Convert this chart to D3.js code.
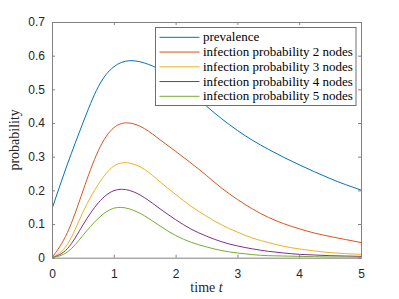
<!DOCTYPE html>
<html>
<head>
<meta charset="utf-8">
<script src="https://cdn.jsdelivr.net/npm/d3@7"></script>
<style>
  html, body { margin: 0; padding: 0; background: #fff; }
  svg { display: block; }
</style>
</head>
<body>
<svg id="chart" width="399" height="299"></svg>
<script>
// ---- data ----
const times = [0, 0.25, 0.5, 0.75, 1.0, 1.25, 1.5, 1.75, 2.0, 2.25, 2.5, 2.75, 3.0, 3.25, 3.5, 3.75, 4.0, 4.25, 4.5, 4.75, 5.0];
const prevalence = [0.145, 0.278, 0.400, 0.508, 0.567, 0.585, 0.578, 0.558, 0.527, 0.490, 0.450, 0.412, 0.378, 0.348, 0.322, 0.298, 0.276, 0.255, 0.235, 0.217, 0.201];
const infection2 = [0, 0.075, 0.198, 0.318, 0.386, 0.400, 0.383, 0.350, 0.316, 0.281, 0.244, 0.206, 0.173, 0.144, 0.120, 0.101, 0.086, 0.073, 0.063, 0.054, 0.045];
const infection3 = [0, 0.040, 0.135, 0.218, 0.272, 0.281, 0.262, 0.225, 0.188, 0.153, 0.123, 0.097, 0.076, 0.058, 0.045, 0.034, 0.026, 0.020, 0.015, 0.012, 0.010];
const infection4 = [0, 0.027, 0.097, 0.163, 0.199, 0.200, 0.178, 0.145, 0.113, 0.085, 0.064, 0.047, 0.035, 0.026, 0.019, 0.014, 0.010, 0.008, 0.006, 0.005, 0.004];
const infection5 = [0, 0.017, 0.066, 0.117, 0.147, 0.145, 0.124, 0.094, 0.066, 0.046, 0.032, 0.021, 0.014, 0.009, 0.006, 0.005, 0.004, 0.003, 0.002, 0.002, 0.001];
const seriesNames = ["prevalence", "infection probability 2 nodes", "infection probability 3 nodes", "infection probability 4 nodes", "infection probability 5 nodes"];
const seriesColors = ["#0072BD", "#D95319", "#EDB120", "#7E2F8E", "#77AC30"];
const xTicks = [0, 1, 2, 3, 4, 5];
const yTicks = [0, 0.1, 0.2, 0.3, 0.4, 0.5, 0.6, 0.7];

const allSeries = [prevalence, infection2, infection3, infection4, infection5];

// ---- layout ----
const svg = d3.select("#chart");
const L = 52, R = 361, T = 22, B = 257.7;
const x = d3.scaleLinear().domain([0, 5]).range([L, R]);
const y = d3.scaleLinear().domain([0, 0.7]).range([B, T]);
const axisColor = "#828282";
const tickFont = "'Liberation Sans', Arial, Helvetica, sans-serif";
const serif = "'Liberation Serif', 'Times New Roman', serif";

// curves (clipped to the plot box)
svg.append("clipPath").attr("id", "clip")
  .append("rect").attr("x", L).attr("y", T).attr("width", R - L).attr("height", B - T);

const line = d3.line()
  .x((d, i) => x(times[i]))
  .y(d => y(d))
  .curve(d3.curveNatural);

svg.append("g").attr("clip-path", "url(#clip)")
  .selectAll("path").data(allSeries).join("path")
  .attr("d", d => line(d))
  .attr("fill", "none")
  .attr("stroke", (d, i) => seriesColors[i])
  .attr("stroke-width", 1);

// axes
function styleAxis(g) {
  g.selectAll(".domain").attr("stroke", axisColor).attr("stroke-width", 1);
  g.selectAll(".tick line").attr("stroke", axisColor).attr("stroke-width", 1);
  g.selectAll(".tick text").attr("fill", "#262626")
    .style("font-family", tickFont).style("font-size", "12px");
}

svg.append("g").attr("transform", `translate(0,${B})`)
  .call(d3.axisBottom(x).tickValues(xTicks).tickFormat(d3.format("d")).tickSizeInner(-3).tickSizeOuter(0).tickPadding(11.5))
  .call(styleAxis);
svg.append("g").attr("transform", `translate(0,${T})`)
  .call(d3.axisTop(x).tickValues(xTicks).tickFormat("").tickSizeInner(-3).tickSizeOuter(0))
  .call(styleAxis);
svg.append("g").attr("transform", `translate(${L},0)`)
  .call(d3.axisLeft(y).tickValues(yTicks).tickFormat(d => d === 0 ? "0" : d3.format(".1f")(d)).tickSizeInner(-3).tickSizeOuter(0).tickPadding(7))
  .call(styleAxis);
svg.append("g").attr("transform", `translate(${R},0)`)
  .call(d3.axisRight(y).tickValues(yTicks).tickFormat("").tickSizeInner(-3).tickSizeOuter(0))
  .call(styleAxis);

// axis labels
svg.append("text")
  .attr("x", (L + R) / 2).attr("y", 291.5)
  .attr("text-anchor", "middle")
  .style("font-family", serif).style("font-size", "14px").attr("fill", "#262626")
  .call(t => {
    t.append("tspan").text("time ");
    t.append("tspan").style("font-style", "italic").text("t");
  });

svg.append("text")
  .attr("transform", `translate(19,${(T + B) / 2}) rotate(-90)`)
  .attr("text-anchor", "middle")
  .style("font-family", serif).style("font-size", "14px").attr("fill", "#262626")
  .text("probability");

// legend
const lg = svg.append("g");
lg.append("rect")
  .attr("x", 155.5).attr("y", 27.5).attr("width", 200.5).attr("height", 78)
  .attr("fill", "#fff").attr("stroke", "#6e6e6e").attr("stroke-width", 1);
const rowH = 14.75;
seriesNames.forEach((name, i) => {
  const yy = 37.3 + i * rowH;
  lg.append("line")
    .attr("x1", 159.5).attr("x2", 199.5).attr("y1", yy).attr("y2", yy)
    .attr("stroke", seriesColors[i]).attr("stroke-width", 1);
  lg.append("text")
    .attr("x", 203).attr("y", yy + 4)
    .style("font-family", serif).style("font-size", "13px").attr("fill", "#000")
    .text(name);
});
</script>
</body>
</html>
